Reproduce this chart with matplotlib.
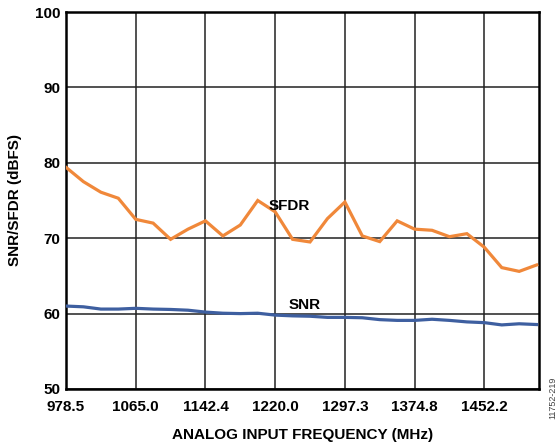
import matplotlib
matplotlib.use("Agg")
import matplotlib.pyplot as plt
import numpy as np

plt.rcParams['font.family'] = ['Liberation Sans', 'DejaVu Sans']

# Tick labels (evenly spaced grid positions)
x_tick_labels = ["978.5", "1065.0", "1142.4", "1220.0", "1297.3", "1374.8", "1452.2"]
# Data sampled at quarter-grid steps (28 points)
sfdr = [79.4, 77.5, 76.1, 75.3, 72.5, 72.0, 69.85, 71.2, 72.3, 70.3, 71.75, 75.0,
        73.5, 69.85, 69.5, 72.6, 74.8, 70.3, 69.55, 72.3, 71.2, 71.05, 70.2, 70.6,
        68.8, 66.1, 65.6, 66.45]
snr = [61.0, 60.9, 60.6, 60.6, 60.7, 60.6, 60.55, 60.45, 60.2, 60.05, 60.0, 60.05,
       59.8, 59.7, 59.65, 59.5, 59.5, 59.45, 59.2, 59.1, 59.1, 59.25, 59.1, 58.9,
       58.8, 58.5, 58.65, 58.55]
y_ticks = [50, 60, 70, 80, 90, 100]

x = np.arange(len(sfdr)) * 0.25

fig = plt.figure(figsize=(5.6, 4.46), dpi=100)
ax = fig.add_axes([66/560, 1 - 389/446, (538.7 - 66)/560, (389 - 12)/446])

orange = '#F0883A'
blue = '#3E5FA0'
ax.plot(x, sfdr, color=orange, lw=2.3, solid_joinstyle='miter', zorder=3)
ax.plot(x, snr, color=blue, lw=2.3, zorder=3)

ax.set_xlim(0, 6.78)
ax.set_ylim(50, 100)
ax.set_xticks(range(len(x_tick_labels)))
ax.set_xticklabels(x_tick_labels)
ax.set_yticks(y_ticks)
ax.tick_params(axis='y', length=0, labelsize=11, pad=4)
ax.tick_params(axis='x', length=0, labelsize=11, pad=8)
for lab in ax.get_xticklabels() + ax.get_yticklabels():
    lab.set_fontweight('bold')
ax.grid(True, color='#222222', lw=1.1, zorder=1)
for s in ax.spines.values():
    s.set_linewidth(1.8)
    s.set_color('black')

ax.set_xlabel("ANALOG INPUT FREQUENCY (MHz)", fontsize=11, fontweight='bold', labelpad=10)
ax.set_ylabel("SNR/SFDR (dBFS)", fontsize=11, fontweight='bold', labelpad=9)

ax.text(3.2, 74.3, "SFDR", fontsize=11, fontweight='bold', ha='center', va='center', zorder=4)
ax.text(3.43, 61.1, "SNR", fontsize=11, fontweight='bold', ha='center', va='center', zorder=4)

fig.text(553/560, 1 - 398/446, "11752-219", rotation=90, fontsize=6.5, color='#444444',
         ha='center', va='center')

fig.savefig("out.png", dpi=100)
